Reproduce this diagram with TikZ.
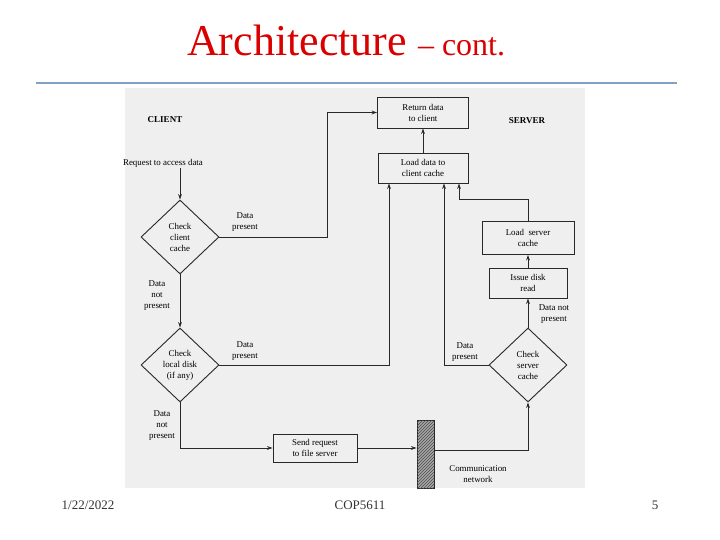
\documentclass[tikz,border=0pt]{standalone}
\usepackage{fontspec}
\setmainfont{Liberation Serif}
\usepackage{xcolor}
\usepackage{tikz}
\usetikzlibrary{positioning, arrows.meta, calc, shapes.geometric, patterns}
\definecolor{titlered}{RGB}{218,0,0}
\definecolor{rulecol}{RGB}{130,160,196}
\definecolor{scangray}{RGB}{239,239,239}
\definecolor{inkgray}{RGB}{40,40,40}
\tikzset{
  procbox/.style={
    rectangle,
    draw=inkgray,
    line width=0.9pt,
    fill=scangray,
    align=center,
    font=\fontsize{8.9}{11}\selectfont,
    inner sep=2pt
  },
  decision/.style={
    diamond,
    draw=inkgray,
    line width=0.9pt,
    fill=scangray,
    minimum width=78pt,
    minimum height=74pt,
    inner sep=0pt,
    align=center,
    font=\fontsize{8.9}{11}\selectfont
  },
  flowarrow/.style={
    -{Stealth[length=5.5pt,width=3.8pt]},
    draw=inkgray,
    line width=0.9pt
  },
  edgelabel/.style={
    font=\fontsize{8.9}{11}\selectfont,
    align=center,
    inner sep=1pt
  },
  sidelabel/.style={
    font=\bfseries\fontsize{9}{11}\selectfont,
    inner sep=1pt
  }
}

\begin{document}
\begin{tikzpicture}[x=1pt,y=-1pt]
  \useasboundingbox (0,0) rectangle (720,540);
  % title and rule
  \node[text=titlered, inner sep=0, anchor=base west] (title) at (187,56)
    {\fontsize{44}{44}\selectfont Architecture \fontsize{32}{32}\selectfont -- cont.};
  \draw[rulecol, line width=2pt] (36,83) -- (677,83);
  % scanned figure area
  \fill[scangray] (125,88) rectangle (585,488);
  \node[sidelabel] (client) at (165,120) {CLIENT};
  \node[sidelabel] (server) at (527,121) {SERVER};
  \node[edgelabel] (request) at (163,163) {Request to access data};
  \node[procbox, minimum width=91pt, minimum height=31pt] (retdata) at (423,112.5) {Return data\\to client};
  \node[procbox, minimum width=90pt, minimum height=30pt] (loaddata) at (423,168) {Load data to\\client cache};
  \node[procbox, minimum width=92pt, minimum height=33pt] (ldserver) at (528,238) {Load\ \ server\\cache};
  \node[procbox, minimum width=78pt, minimum height=30pt] (diskread) at (528,283) {Issue disk\\read};
  \node[decision] (chkclient) at (180,237) {Check\\client\\cache};
  \node[decision] (chklocal) at (180,365) {Check\\local disk\\(if any)};
  \node[decision] (chkserver) at (528,365) {Check\\server\\cache};
  \node[procbox, minimum width=84pt, minimum height=28pt] (sendreq) at (315,448) {Send request\\to file server};
  \node[rectangle, draw=inkgray, line width=0.9pt, fill=black!35,
        postaction={pattern=north east lines, pattern color=black!70},
        minimum width=17pt, minimum height=68pt, inner sep=0] (commnet) at (425.5,454) {};
  \node[edgelabel] (commlabel) at (478,474) {Communication\\network};
  % labels on the branches
  \node[edgelabel] (lbla) at (245,222) {Data\\present};
  \node[edgelabel] (lblb) at (157,296) {Data\\not\\present};
  \node[edgelabel] (lblc) at (245,351) {Data\\present};
  \node[edgelabel] (lbld) at (162,426) {Data\\not\\present};
  \node[edgelabel] (lble) at (465,352) {Data\\present};
  \node[edgelabel] (lblf) at (554,314) {Data not\\present};
  % connectors
  \draw[flowarrow] (request.south -| chkclient.north) -- (chkclient.north);
  \draw[flowarrow] (chkclient.east) -- ++(108,0) |- (retdata.west);
  \draw[flowarrow] (chkclient.south) -- (chklocal.north);
  \draw[flowarrow] (chklocal.east) -| ([xshift=-34pt]loaddata.south);
  \draw[flowarrow] (chkserver.west) -| ([xshift=21pt]loaddata.south);
  \draw[flowarrow] (ldserver.north) -- ++(0,-22) -| ([xshift=36pt]loaddata.south);
  \draw[flowarrow] (loaddata.north) -- (retdata.south);
  \draw[flowarrow] (diskread.north) -- (ldserver.south);
  \draw[flowarrow] (chkserver.north) -- (diskread.south);
  \draw[flowarrow] (chklocal.south) |- (sendreq.west);
  \draw[flowarrow] (sendreq.east) -- (sendreq.east -| commnet.west);
  \draw[flowarrow] ([yshift=4pt]commnet.east) -| (chkserver.south);
  % footer
  \node[font=\fontsize{13}{13}\selectfont, text=black!80] (date) at (88,505) {1/22/2022};
  \node[font=\fontsize{13}{13}\selectfont, text=black!80] (course) at (360,505) {COP5611};
  \node[font=\fontsize{13}{13}\selectfont, text=black!80] (page) at (655,505) {5};
\end{tikzpicture}
\end{document}
